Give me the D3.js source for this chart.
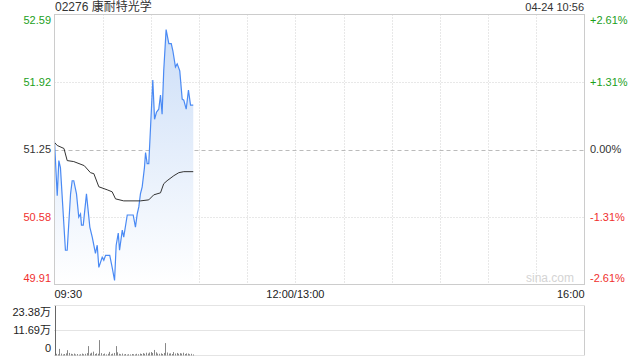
<!DOCTYPE html>
<html lang="zh">
    <head>
        <meta charset="utf-8">
        <title>02276 康耐特光学</title>
        <script src="https://d3js.org/d3.v7.min.js"></script>
        <style type="text/css">
            body { margin: 0; background: #fff; }
            text { font-family: "Liberation Sans", Arial, "Noto Sans CJK SC", sans-serif; }
        </style>
    </head>
    <body>
        <script type="text/javascript">

            const svgW = 640;
            const svgH = 360;

            // minutes after 09:30 (330 trading minutes)
            const priceMinutes = [0, 1.7, 2.7, 3.7, 6.8, 7.9, 10, 11, 12, 13.7, 15.1, 16.2, 16.8, 17.9, 19.9, 22, 23.5, 25.5, 26.6, 27.6,
                                  29.7, 30.7, 31.8, 34.4, 35.9, 37.4, 38.4, 39.7, 40.5, 42.2, 43.1, 45.3, 49, 50.4, 51.5, 52.5, 53.5, 54.6, 56, 56.7,
                                  57.7, 58.7, 59.8, 61.2, 62.3, 63.5, 64.9, 66, 67, 68, 69.5, 71.2, 72.7, 73.7, 75.3, 76.4, 78, 79.5, 80.5, 82,
                                  83.4, 84.7, 86.4];
            const prices = [51.33, 50.79, 51.14, 51.07, 50.25, 50.25, 50.81, 50.94, 50.94, 50.81, 50.58, 50.61, 50.50, 50.50, 50.81, 50.48, 50.38, 50.22, 50.30, 50.08,
                            50.18, 50.15, 50.20, 50.20, 50.08, 49.95, 50.30, 50.42, 50.25, 50.45, 50.38, 50.60, 50.60, 50.48, 50.61, 50.68, 50.81, 50.88, 51.07, 51.22,
                            51.11, 51.11, 51.47, 51.94, 51.55, 51.62, 51.65, 51.79, 51.60, 52.03, 52.44, 52.30, 52.30, 52.23, 52.07, 52.10, 52.03, 51.75, 51.74, 51.65,
                            51.84, 51.69, 51.69];

            const avgMinutes = [0, 1.7, 5.9, 7.9, 12, 18.5, 22.4, 24.5, 27.6, 32.8, 35.9, 38, 43.1, 53.5, 58.7, 61.8, 66, 68, 70.1, 74.3, 77.4, 80.5, 86.4];
            const avgPrices = [51.32, 51.29, 51.26, 51.14, 51.13, 51.09, 51.02, 51.01, 50.88, 50.85, 50.83, 50.76, 50.74, 50.74, 50.75, 50.80, 50.82, 50.91, 50.94, 50.99, 51.02, 51.03, 51.03];

            // volume per minute, in 万 shares
            const volumes = [23.2, 0.8, 0.6, 3.1, 0.9, 0.5, 0.7, 1.0, 2.5, 1.2, 0.8, 0.6, 0.9, 0.5, 0.7, 0.4, 0.6, 0.9, 0.6, 0.8,
                             1.1, 4.4, 0.9, 1.3, 1.8, 0.7, 1.0, 0.8, 7.2, 1.1, 0.6, 0.9, 0.5, 0.8, 1.7, 0.6, 0.9, 1.2, 4.4, 1.5,
                             0.8, 0.6, 0.9, 0.5, 0.7, 0.4, 0.6, 0.5, 0.7, 0.6, 0.5, 0.8, 0.6, 0.9, 0.7, 1.1, 0.8, 1.3, 0.9, 1.4,
                             1.6, 1.2, 2.6, 1.5, 0.9, 0.8, 1.0, 0.7, 1.2, 5.8, 1.4, 0.9, 1.0, 0.7, 1.6, 0.9, 1.2, 0.8, 1.1, 0.9,
                             1.3, 0.7, 1.0, 0.9, 0.6, 0.8, 0.5];

            const priceTicks = [52.59, 51.92, 51.25, 50.58, 49.91];
            const pctLabels = ["+2.61%", "+1.31%", "0.00%", "-1.31%", "-2.61%"];
            const volTicks = [23.38, 11.69, 0];
            const volLabels = ["23.38万", "11.69万", "0"];
            const timeTicks = [0, 150, 330];
            const timeLabels = ["09:30", "12:00/13:00", "16:00"];
            const prevClose = 51.25;

            const plotL = 54.5, plotR = 584.5, plotT = 14.5, plotB = 284.5;
            const volT = 305.5, volB = 355.5;
            const green = "#1ba01b", red = "#f0302e";

            const xScale = d3.scaleLinear().domain([0, 330]).range([plotL, plotR]);
            const yScale = d3.scaleLinear().domain([49.91, 52.59]).range([plotB, plotT]);
            const vScale = d3.scaleLinear().domain([0, 23.38]).range([volB, volT]);

            const svg = d3.select("body")
                    .append("svg")
                    .attr("width", svgW)
                    .attr("height", svgH);

            const grad = svg.append("defs").append("linearGradient")
                    .attr("id", "fillGrad")
                    .attr("gradientUnits", "userSpaceOnUse")
                    .attr("x1", 0).attr("y1", plotT).attr("x2", 0).attr("y2", plotB);
            grad.append("stop").attr("offset", "0%").attr("stop-color", "#c9dcf7");
            grad.append("stop").attr("offset", "100%").attr("stop-color", "#ffffff");

            // vertical grid (every 30 minutes)
            svg.append("g")
                .selectAll("line")
                .data(d3.range(30, 330, 30))
                .enter()
                .append("line")
                .attr("x1", d => Math.round(xScale(d)) + 0.5)
                .attr("x2", d => Math.round(xScale(d)) + 0.5)
                .attr("y1", plotT).attr("y2", plotB)
                .attr("stroke", "#d0d0d0")
                .attr("stroke-dasharray", "1,2");

            // horizontal grid
            svg.append("g")
                .selectAll("line")
                .data(priceTicks.slice(1, 4))
                .enter()
                .append("line")
                .attr("x1", plotL).attr("x2", plotR)
                .attr("y1", d => Math.round(yScale(d)) + 0.5)
                .attr("y2", d => Math.round(yScale(d)) + 0.5)
                .attr("stroke", d => d === prevClose ? "#bbbbbb" : "#d0d0d0")
                .attr("stroke-dasharray", d => d === prevClose ? "4,3" : "1,2");

            // area + price line
            const pts = priceMinutes.map((m, i) => [m, prices[i]]);
            const area = d3.area()
                    .x(d => xScale(d[0]))
                    .y0(plotB)
                    .y1(d => yScale(d[1]));
            svg.append("path")
                .datum(pts)
                .attr("d", area)
                .attr("fill", "url(#fillGrad)");

            const line = d3.line()
                    .x(d => xScale(d[0]))
                    .y(d => yScale(d[1]));
            svg.append("path")
                .datum(pts)
                .attr("d", line)
                .attr("fill", "none")
                .attr("stroke", "#4a8af4")
                .attr("stroke-width", 1.2);

            svg.append("path")
                .datum(avgMinutes.map((m, i) => [m, avgPrices[i]]))
                .attr("d", line)
                .attr("fill", "none")
                .attr("stroke", "#333333")
                .attr("stroke-width", 1);

            // frame
            svg.append("rect")
                .attr("x", plotL).attr("y", plotT)
                .attr("width", plotR - plotL).attr("height", plotB - plotT)
                .attr("fill", "none")
                .attr("stroke", "#cccccc");

            svg.append("text")
                .attr("x", 574).attr("y", 282)
                .attr("text-anchor", "end")
                .attr("font-size", 12)
                .attr("fill", "#d4d4d4")
                .text("sina.com");

            // left price labels
            svg.append("g")
                .selectAll("text")
                .data(priceTicks)
                .enter()
                .append("text")
                .attr("x", 51)
                .attr("y", (d, i) => yScale(d) + (i === 0 ? 6 : i === 4 ? -6 : 0))
                .attr("dy", "0.35em")
                .attr("text-anchor", "end")
                .attr("font-size", 11)
                .attr("fill", d => d > prevClose ? green : d < prevClose ? red : "#333")
                .text(d => d.toFixed(2));

            // right percent labels
            svg.append("g")
                .selectAll("text")
                .data(priceTicks)
                .enter()
                .append("text")
                .attr("x", 590)
                .attr("y", (d, i) => yScale(d) + (i === 0 ? 6 : i === 4 ? -6 : 0))
                .attr("dy", "0.35em")
                .attr("font-size", 11)
                .attr("fill", d => d > prevClose ? green : d < prevClose ? red : "#333")
                .text((d, i) => pctLabels[i]);

            // time labels
            svg.append("g")
                .selectAll("text")
                .data(timeTicks)
                .enter()
                .append("text")
                .attr("x", d => xScale(d))
                .attr("y", 294)
                .attr("dy", "0.35em")
                .attr("text-anchor", (d, i) => i === 0 ? "start" : i === 1 ? "middle" : "end")
                .attr("font-size", 11)
                .attr("fill", "#222")
                .text((d, i) => timeLabels[i]);

            // title + date
            svg.append("text")
                .attr("x", 55).attr("y", 7)
                .attr("dy", "0.35em")
                .attr("font-size", 12)
                .attr("fill", "#333")
                .text("02276 康耐特光学");
            svg.append("text")
                .attr("x", 584).attr("y", 7.5)
                .attr("dy", "0.35em")
                .attr("text-anchor", "end")
                .attr("font-size", 11)
                .attr("fill", "#333")
                .text("04-24 10:56");

            // volume panel
            svg.append("g")
                .selectAll("line")
                .data(volTicks)
                .enter()
                .append("line")
                .attr("x1", plotL).attr("x2", plotR)
                .attr("y1", d => Math.round(vScale(d)) - 0.5)
                .attr("y2", d => Math.round(vScale(d)) - 0.5)
                .attr("stroke", "#c8c8c8")
                .attr("stroke-dasharray", "1,1");
            svg.append("line")
                .attr("x1", plotR).attr("x2", plotR)
                .attr("y1", volT).attr("y2", volB)
                .attr("stroke", "#cccccc");

            svg.append("g")
                .selectAll("rect")
                .data(volumes)
                .enter()
                .append("rect")
                .attr("x", (d, i) => Math.round(xScale(i)))
                .attr("y", d => vScale(d))
                .attr("width", 1)
                .attr("height", d => volB - vScale(d))
                .attr("fill", (d, i) => i === 0 ? "#666" : "#888");

            svg.append("g")
                .selectAll("text")
                .data(volTicks)
                .enter()
                .append("text")
                .attr("x", 51)
                .attr("y", (d, i) => vScale(d) + (i === 0 ? 6.5 : i === 2 ? -7 : 0))
                .attr("dy", "0.35em")
                .attr("text-anchor", "end")
                .attr("font-size", 11)
                .attr("fill", "#222")
                .text((d, i) => volLabels[i]);

        </script>
    </body>
</html>
